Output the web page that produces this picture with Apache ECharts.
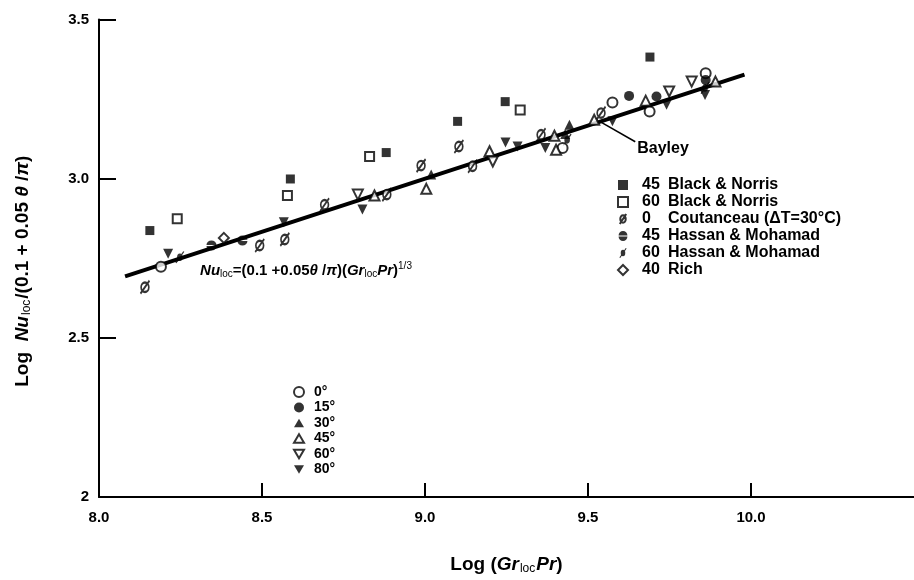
<!DOCTYPE html>
<html><head><meta charset="utf-8">
<script src="https://cdn.jsdelivr.net/npm/echarts@6/dist/echarts.min.js"></script>
<style>html,body{margin:0;padding:0;background:#fff}#c{width:914px;height:580px}</style>
</head><body><div id="c"></div>
<script>
// ---- data ----
const xTicks = [8.0, 8.5, 9.0, 9.5, 10.0];
const yTicks = [2.0, 2.5, 3.0, 3.5];
const bn45  = [[8.156,2.837],[8.587,2.999],[8.881,3.082],[9.100,3.180],[9.246,3.242],[9.690,3.382]];
const bn60  = [[8.240,2.874],[8.578,2.947],[8.830,3.070],[9.292,3.216]];
const cout0 = [[8.141,2.659],[8.493,2.790],[8.570,2.809],[8.692,2.918],[8.883,2.950],[8.988,3.041],[9.104,3.101],[9.146,3.039],[9.356,3.138],[9.540,3.206]];
const hm45  = [[8.345,2.790],[8.440,2.806]];
const hm60  = [[8.248,2.753],[9.436,3.122],[9.859,3.285]];
const rich40 = [[8.383,2.814]];
const deg0  = [[8.190,2.723],[9.422,3.096],[9.575,3.239],[9.689,3.211],[9.861,3.331]];
const deg15 = [[9.626,3.260],[9.710,3.258],[9.861,3.310]];
const deg30 = [[9.019,3.013],[9.443,3.169],[9.430,3.140]];
const deg45 = [[8.845,2.947],[9.004,2.968],[9.198,3.086],[9.397,3.135],[9.402,3.091],[9.519,3.185],[9.677,3.245],[9.891,3.305]];
const deg60 = [[8.794,2.950],[9.208,3.054],[9.749,3.274],[9.818,3.305]];
const deg80 = [[8.212,2.764],[8.567,2.863],[8.808,2.903],[9.247,3.114],[9.284,3.101],[9.369,3.096],[9.575,3.180],[9.741,3.232],[9.859,3.263]];
const bayley = [[8.08,2.693],[9.98,3.327]];
const bayleyLeader = [[9.537,3.179],[9.645,3.116]];
const eqAnchor = [8.31, 2.71];

const F = 'Liberation Sans';
const SYM = {
  sqF: 'path://M-10,-10L10,-10L10,10L-10,10Z',
  sqE: 'emptyPath://M-10,-10L10,-10L10,10L-10,10Z',
  cout: 'emptyPath://M0,-8A6,8 0 1,1 0,8A6,8 0 1,1 0,-8ZM-7,11L7,-11',
  hm45: 'path://M-10,-1.3A10,10 0 0,1 10,-1.3ZM10,1.3A10,10 0 0,1 -10,1.3Z',
  hm60: 'path://M0,-7A5,7 0 1,1 0,7A5,7 0 1,1 0,-7ZM-8,10L6,-11L8,-10L-6,11Z',
  dia: 'emptyPath://M0,-10L10,0L0,10L-10,0Z',
  cE: 'emptyCircle', cF: 'circle',
  tuF: 'path://M0,-9L10,8L-10,8Z', tuE: 'emptyPath://M0,-9L10,8L-10,8Z',
  tdF: 'path://M-10,-8L10,-8L0,9Z', tdE: 'emptyPath://M-10,-8L10,-8L0,9Z'
};
function sc(name, data, sym, size) {
  return { type:'scatter', name, data, symbol: sym, symbolSize: size, z: 5,
    itemStyle:{ color:'#000' }, emphasis:{disabled:true} };
}
const series = [
  { type:'line', name:'Bayley', data: bayley, symbol:'none', z:2,
    lineStyle:{color:'#000', width:4}, emphasis:{disabled:true} },
  { type:'line', name:'leader', data: bayleyLeader, symbol:'none', z:2,
    lineStyle:{color:'#000', width:1.5}, emphasis:{disabled:true} },
  sc('45 Black & Norris', bn45, SYM.sqF, 9),
  sc('60 Black & Norris', bn60, SYM.sqE, 9),
  sc('0 Coutanceau (ΔT=30°C)', cout0, SYM.cout, [9,13]),
  sc('45 Hassan & Mohamad', hm45, SYM.hm45, 10),
  sc('60 Hassan & Mohamad', hm60, SYM.hm60, [9,12]),
  sc('40 Rich', rich40, SYM.dia, 10),
  sc('0°', deg0, SYM.cE, 10),
  sc('15°', deg15, SYM.cF, 10),
  sc('30°', deg30, SYM.tuF, 10),
  sc('45°', deg45, SYM.tuE, 10),
  sc('60°', deg60, SYM.tdE, 10),
  sc('80°', deg80, SYM.tdF, 10)
];
const txt = {fontFamily:F, fontWeight:'bold', fontSize:14, color:'#000'};
const chart = echarts.init(document.getElementById('c'), null, {renderer:'canvas'});
chart.setOption({
  animation:false,
  backgroundColor:'#fff',
  grid:{left:99, right:0, top:19.5, bottom:82},
  xAxis:{ type:'value', min:8, max:10.5, interval:0.5,
    axisLine:{onZero:false, lineStyle:{color:'#000', width:2}},
    axisTick:{inside:true, length:14, customValues:xTicks, lineStyle:{color:'#000', width:2}},
    axisLabel:{customValues:xTicks, formatter:v=>v.toFixed(1), margin:13, ...txt, fontSize:15},
    splitLine:{show:false},
    name:'{r|Log (}{i|Gr}{s|loc}{i|Pr}{r|)}', nameLocation:'middle', nameGap:57,
    nameTextStyle:{rich:{r:{...txt,fontSize:19}, i:{...txt,fontSize:19,fontStyle:'italic'}, s:{...txt,fontSize:12,fontWeight:'normal',padding:[9,1,0,1]}}}
  },
  yAxis:{ type:'value', min:2, max:3.5, interval:0.5,
    axisLine:{onZero:false, lineStyle:{color:'#000', width:2}},
    axisTick:{inside:true, length:17, customValues:yTicks, lineStyle:{color:'#000', width:2}},
    axisLabel:{customValues:yTicks, formatter:v=> v===2 ? '2' : v.toFixed(1), margin:10, ...txt, fontSize:15},
    splitLine:{show:false},
    name:'{r|Log  }{i|Nu}{s|loc}{r|/(0.1 + 0.05 }{i|θ}{r| /}{i|π}{r|)}{w| }', nameLocation:'middle', nameGap:66, nameRotate:90,
    nameTextStyle:{rich:{r:{...txt,fontSize:19}, i:{...txt,fontSize:19,fontStyle:'italic'}, s:{...txt,fontSize:12,fontWeight:'normal',padding:[9,1,0,1]}, w:{...txt, width:26}}}
  },
  legend:[
    { orient:'vertical', left:612, top:172, itemWidth:10, itemHeight:10, itemGap:1, selectedMode:false,
      data:['45 Black & Norris','60 Black & Norris','0 Coutanceau (ΔT=30°C)','45 Hassan & Mohamad','60 Hassan & Mohamad','40 Rich'],
      formatter: n => { const i = n.indexOf(' '); return '{a|'+n.slice(0,i)+'}{b|'+n.slice(i+1)+'}'; },
      textStyle:{rich:{a:{...txt, fontSize:16, width:26, padding:[0,0,0,9]}, b:{...txt, fontSize:16}}} },
    { orient:'vertical', left:288, top:380, itemWidth:10, itemHeight:10, itemGap:1.5, selectedMode:false,
      data:['0°','15°','30°','45°','60°','80°'],
      textStyle:{...txt, fontSize:14, padding:[0,0,0,5]} }
  ],
  series
});
const ep = chart.convertToPixel({gridIndex:0}, eqAnchor);
const bp = chart.convertToPixel({gridIndex:0}, bayleyLeader[1]);
chart.setOption({ graphic:[
  { type:'text', left:ep[0], top:ep[1]-10, z:10,
    style:{ text:'{i|Nu}{s|loc}{r|=(0.1 +0.05}{i|θ}{r| /}{i|π}{r|)(}{i|Gr}{s|loc}{i|Pr}{r|)}{p|1/3}',
      rich:{ r:{...txt, fontSize:15}, i:{...txt, fontSize:15, fontStyle:'italic'}, s:{...txt, fontSize:10, fontWeight:'normal', padding:[8,0,0,0]}, p:{...txt, fontSize:10, fontWeight:'normal', padding:[0,0,9,0]} } } },
  { type:'text', left:bp[0]+2, top:bp[1]-1, z:10, style:{ text:'Bayley', ...txt, fontSize:16, fill:'#000' } }
] });
</script></body></html>
